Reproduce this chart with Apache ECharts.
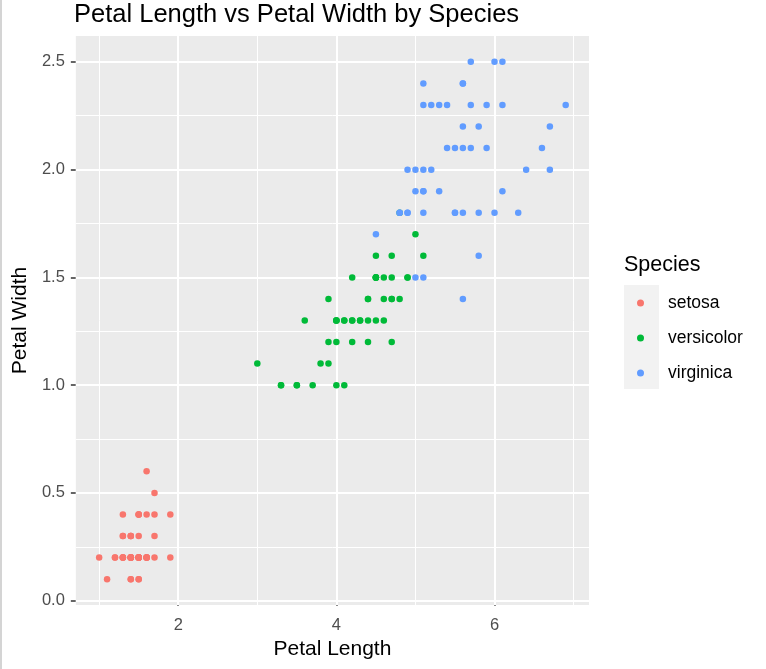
<!DOCTYPE html>
<html>
<head>
<meta charset="utf-8">
<script src="https://cdn.jsdelivr.net/npm/echarts@6/dist/echarts.min.js"></script>
<style>
  html, body { margin: 0; padding: 0; background: #fff; }
  #chart { width: 766px; height: 669px; box-sizing: border-box; border-left: 2px solid #d4d4d4; }
</style>
</head>
<body>
<div id="chart"></div>
<script>
// iris petal measurements, per species
var setosaLength = [1.4,1.4,1.3,1.5,1.4,1.7,1.4,1.5,1.4,1.5, 1.5,1.6,1.4,1.1,1.2,1.5,1.3,1.4,1.7,1.5,
  1.7,1.5,1.0,1.7,1.9,1.6,1.6,1.5,1.4,1.6, 1.6,1.5,1.5,1.4,1.5,1.2,1.3,1.4,1.3,1.5,
  1.3,1.3,1.3,1.6,1.9,1.4,1.6,1.4,1.5,1.4];
var setosaWidth = [0.2,0.2,0.2,0.2,0.2,0.4,0.3,0.2,0.2,0.1, 0.2,0.2,0.1,0.1,0.2,0.4,0.4,0.3,0.3,0.3,
  0.2,0.4,0.2,0.5,0.2,0.2,0.4,0.2,0.2,0.2, 0.2,0.4,0.1,0.2,0.2,0.2,0.2,0.1,0.2,0.2,
  0.3,0.3,0.2,0.6,0.4,0.3,0.2,0.2,0.2,0.2];
var versicolorLength = [4.7,4.5,4.9,4.0,4.6,4.5,4.7,3.3,4.6,3.9, 3.5,4.2,4.0,4.7,3.6,4.4,4.5,4.1,4.5,3.9,
  4.8,4.0,4.9,4.7,4.3,4.4,4.8,5.0,4.5,3.5, 3.8,3.7,3.9,5.1,4.5,4.5,4.7,4.4,4.1,4.0,
  4.4,4.6,4.0,3.3,4.2,4.2,4.2,4.3,3.0,4.1];
var versicolorWidth = [1.4,1.5,1.5,1.3,1.5,1.3,1.6,1.0,1.3,1.4, 1.0,1.5,1.0,1.4,1.3,1.4,1.5,1.0,1.5,1.1,
  1.8,1.3,1.5,1.2,1.3,1.4,1.4,1.7,1.5,1.0, 1.1,1.0,1.2,1.6,1.5,1.6,1.5,1.3,1.3,1.3,
  1.2,1.4,1.2,1.0,1.3,1.2,1.3,1.3,1.1,1.3];
var virginicaLength = [6.0,5.1,5.9,5.6,5.8,6.6,4.5,6.3,5.8,6.1, 5.1,5.3,5.5,5.0,5.1,5.3,5.5,6.7,6.9,5.0,
  5.7,4.9,6.7,4.9,5.7,6.0,4.8,4.9,5.6,5.8, 6.1,6.4,5.6,5.1,5.6,6.1,5.6,5.5,4.8,5.4,
  5.6,5.1,5.1,5.9,5.7,5.2,5.0,5.2,5.4,5.1];
var virginicaWidth = [2.5,1.9,2.1,1.8,2.2,2.1,1.7,1.8,1.8,2.5, 2.0,1.9,2.1,2.0,2.4,2.3,1.8,2.2,2.3,1.5,
  2.3,2.0,2.0,1.8,2.1,1.8,1.8,1.8,2.1,1.6, 1.9,2.0,2.2,1.5,1.4,2.3,2.4,1.8,1.8,2.1,
  2.4,2.3,1.9,2.3,2.5,2.3,1.9,2.0,2.3,1.8];

var speciesNames = ['setosa', 'versicolor', 'virginica'];
var speciesColors = ['#F8766D', '#00BA38', '#619CFF'];

var xTicks = [2, 4, 6];
var xMinor = [1, 3, 5, 7];
var yTicks = [0, 0.5, 1.0, 1.5, 2.0, 2.5];
var yMinor = [0.25, 0.75, 1.25, 1.75, 2.25];

var xRange = [0.705, 7.195];
var yRange = [-0.02, 2.62];

function zip(xs, ys) {
  var out = [];
  for (var i = 0; i < xs.length; i++) out.push([xs[i], ys[i]]);
  return out;
}

var FONT = 'Liberation Sans, Arial, sans-serif';
var chart = echarts.init(document.getElementById('chart'));

// grid lines as markLines on an empty series (ggplot style: minor thin, major thick)
var gridLines = [];
xMinor.forEach(function (v) { gridLines.push({ xAxis: v, lineStyle: { width: 1 } }); });
yMinor.forEach(function (v) { gridLines.push({ yAxis: v, lineStyle: { width: 1 } }); });
xTicks.forEach(function (v) { gridLines.push({ xAxis: v, lineStyle: { width: 2 } }); });
yTicks.forEach(function (v) { gridLines.push({ yAxis: v, lineStyle: { width: 2 } }); });

var series = [{
  type: 'scatter',
  name: '_grid',
  data: [],
  silent: true,
  z: 0,
  markLine: {
    silent: true,
    symbol: 'none',
    label: { show: false },
    animation: false,
    lineStyle: { color: '#ffffff', type: 'solid' },
    data: gridLines
  }
}];

var allData = [
  zip(setosaLength, setosaWidth),
  zip(versicolorLength, versicolorWidth),
  zip(virginicaLength, virginicaWidth)
];
speciesNames.forEach(function (name, i) {
  series.push({
    type: 'scatter',
    name: name,
    data: allData[i],
    symbol: 'circle',
    symbolSize: 6.5,
    z: 5,
    itemStyle: { color: speciesColors[i], opacity: 1 },
    animation: false
  });
});

chart.setOption({
  animation: false,
  backgroundColor: '#ffffff',
  textStyle: { fontFamily: FONT },
  title: {
    text: 'Petal Length vs Petal Width by Species',
    left: 72,
    top: 2,
    padding: 0,
    textStyle: { fontSize: 25.5, fontWeight: 'normal', color: '#000000' }
  },
  legend: {
    data: speciesNames,
    orient: 'vertical',
    left: 635,
    top: 294,
    padding: 0,
    itemWidth: 7,
    itemHeight: 7,
    itemGap: 17,
    icon: 'circle',
    textStyle: { fontSize: 17.5, color: '#000000', lineHeight: 18, padding: [0, 0, 0, 19] }
  },
  graphic: [
    { type: 'rect', left: 622, top: 285, z: -1, shape: { width: 35, height: 104 }, style: { fill: '#F2F2F2' } },
    { type: 'text', left: 622, top: 254, style: { text: 'Species', fontSize: 21.5, fill: '#000000', fontFamily: FONT } }
  ],
  grid: {
    left: 73,
    right: 177,
    top: 36,
    bottom: 64,
    show: true,
    backgroundColor: '#EBEBEB',
    borderWidth: 0
  },
  xAxis: {
    type: 'value',
    min: xRange[0],
    max: xRange[1],
    name: 'Petal Length',
    nameLocation: 'middle',
    nameGap: 34,
    nameTextStyle: { fontSize: 21, color: '#000000' },
    axisLine: { show: false },
    splitLine: { show: false },
    axisTick: { show: true, customValues: xTicks, length: 5, lineStyle: { color: '#333333', width: 1.5 } },
    axisLabel: { customValues: xTicks, fontSize: 16.5, color: '#4D4D4D', margin: 12 }
  },
  yAxis: {
    type: 'value',
    min: yRange[0],
    max: yRange[1],
    name: 'Petal Width',
    nameLocation: 'middle',
    nameGap: 44,
    nameTextStyle: { fontSize: 21, color: '#000000' },
    axisLine: { show: false },
    splitLine: { show: false },
    axisTick: { show: true, customValues: yTicks, length: 5, lineStyle: { color: '#333333', width: 1.5 } },
    axisLabel: {
      customValues: yTicks, fontSize: 16.5, color: '#4D4D4D', margin: 11,
      formatter: function (v) { return v.toFixed(1); }
    }
  },
  series: series
});
</script>
</body>
</html>
